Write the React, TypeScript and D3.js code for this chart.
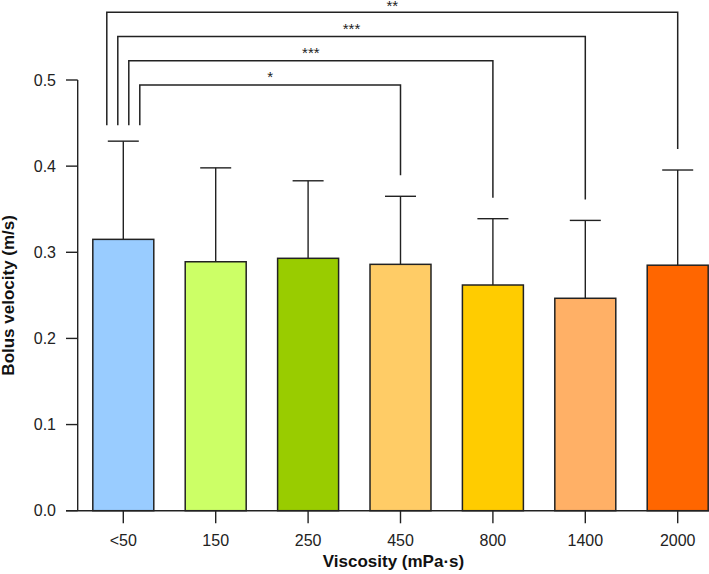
import React from "react";
import * as d3 from "d3";

const categories = ["<50", "150", "250", "450", "800", "1400", "2000"];
const means = [0.315, 0.289, 0.293, 0.286, 0.262, 0.2466, 0.285];
const upperErr = [0.429, 0.398, 0.383, 0.365, 0.339, 0.337, 0.3955];
const barColors = ["#99CCFF", "#CCFF66", "#99CC00", "#FFCC66", "#FFCC00", "#FFB066", "#FF6600"];
const yTicks = [0, 0.1, 0.2, 0.3, 0.4, 0.5];
const bracketFrom = [0, 0, 0, 0];
const bracketTo = [6, 5, 4, 3];
const bracketLabels = ["**", "***", "***", "*"];

const W = 709;
const H = 574;
const FONT = "'Liberation Sans', Arial, Helvetica, sans-serif";
const INK = "#222";

export default function App() {
  const x = d3
    .scaleBand<string>()
    .domain(categories)
    .range([77.1, 723.9])
    .paddingInner(0.34)
    .paddingOuter(0.17);
  const y = d3.scaleLinear().domain([0, 0.5]).range([510.7, 80]);
  const axisX = 77.7;
  const bw = x.bandwidth();
  const cx = (i: number) => (x(categories[i]) as number) + bw / 2;

  return (
    <svg
      width={W}
      height={H}
      viewBox={`0 0 ${W} ${H}`}
      style={{ position: "absolute", left: 0, top: 0, background: "#fff" }}
      fontFamily={FONT}
    >
      <rect x={0} y={0} width={W} height={H} fill="#fff" />
      {/* bars */}
      {categories.map((c, i) => (
        <g key={c}>
          <line
            x1={cx(i)}
            x2={cx(i)}
            y1={y(means[i])}
            y2={y(upperErr[i])}
            stroke={INK}
            strokeWidth={1.4}
          />
          <line
            x1={cx(i) - 15.5}
            x2={cx(i) + 15.5}
            y1={y(upperErr[i])}
            y2={y(upperErr[i])}
            stroke={INK}
            strokeWidth={1.4}
          />
          <rect
            x={x(c)}
            y={y(means[i])}
            width={bw}
            height={y(0) - y(means[i])}
            fill={barColors[i]}
            stroke={INK}
            strokeWidth={1.5}
          />
        </g>
      ))}
      {/* y axis */}
      <line x1={axisX} x2={axisX} y1={y(0.5)} y2={y(0)} stroke={INK} strokeWidth={1.4} />
      {yTicks.map((t) => (
        <g key={t}>
          <line x1={66} x2={axisX} y1={y(t)} y2={y(t)} stroke={INK} strokeWidth={1.4} />
          <text
            x={56}
            y={y(t)}
            dy="0.35em"
            textAnchor="end"
            fontSize={16}
            fill="#222"
          >
            {t.toFixed(1)}
          </text>
        </g>
      ))}
      {/* x axis */}
      <line x1={66} x2={W} y1={y(0)} y2={y(0)} stroke={INK} strokeWidth={1.4} />
      {categories.map((c, i) => (
        <g key={"t" + c}>
          <line x1={cx(i)} x2={cx(i)} y1={y(0)} y2={y(0) + 12.6} stroke={INK} strokeWidth={1.4} />
          <text x={cx(i)} y={546} textAnchor="middle" fontSize={16} fill="#222">
            {c}
          </text>
        </g>
      ))}
      {/* titles */}
      <text
        x={393.5}
        y={567}
        textAnchor="middle"
        fontSize={17}
        fontWeight="bold"
        fill="#111"
      >
        Viscosity (mPa·s)
      </text>
      <text
        transform={`translate(13.5, ${(y(0) + y(0.5)) / 2}) rotate(-90)`}
        textAnchor="middle"
        fontSize={17}
        fontWeight="bold"
        fill="#111"
      >
        Bolus velocity (m/s)
      </text>
      {/* significance brackets */}
      {bracketTo.map((to, k) => {
        const from = bracketFrom[k];
        const lineY = 12.3 + k * 24.2;
        const xl = cx(from) + (k - 1.5) * 11;
        const xr = cx(to);
        const yl = y(upperErr[from]) - 16;
        const yr = y(upperErr[to]) - 21;
        return (
          <g key={"b" + k}>
            <path
              d={`M${xl},${yl}V${lineY}H${xr}V${yr}`}
              fill="none"
              stroke={INK}
              strokeWidth={1.5}
            />
            <text
              x={(xl + xr) / 2}
              y={Math.max(lineY - 3, 10.5)}
              textAnchor="middle"
              fontSize={15}
              fill="#222"
            >
              {bracketLabels[k]}
            </text>
          </g>
        );
      })}
    </svg>
  );
}
